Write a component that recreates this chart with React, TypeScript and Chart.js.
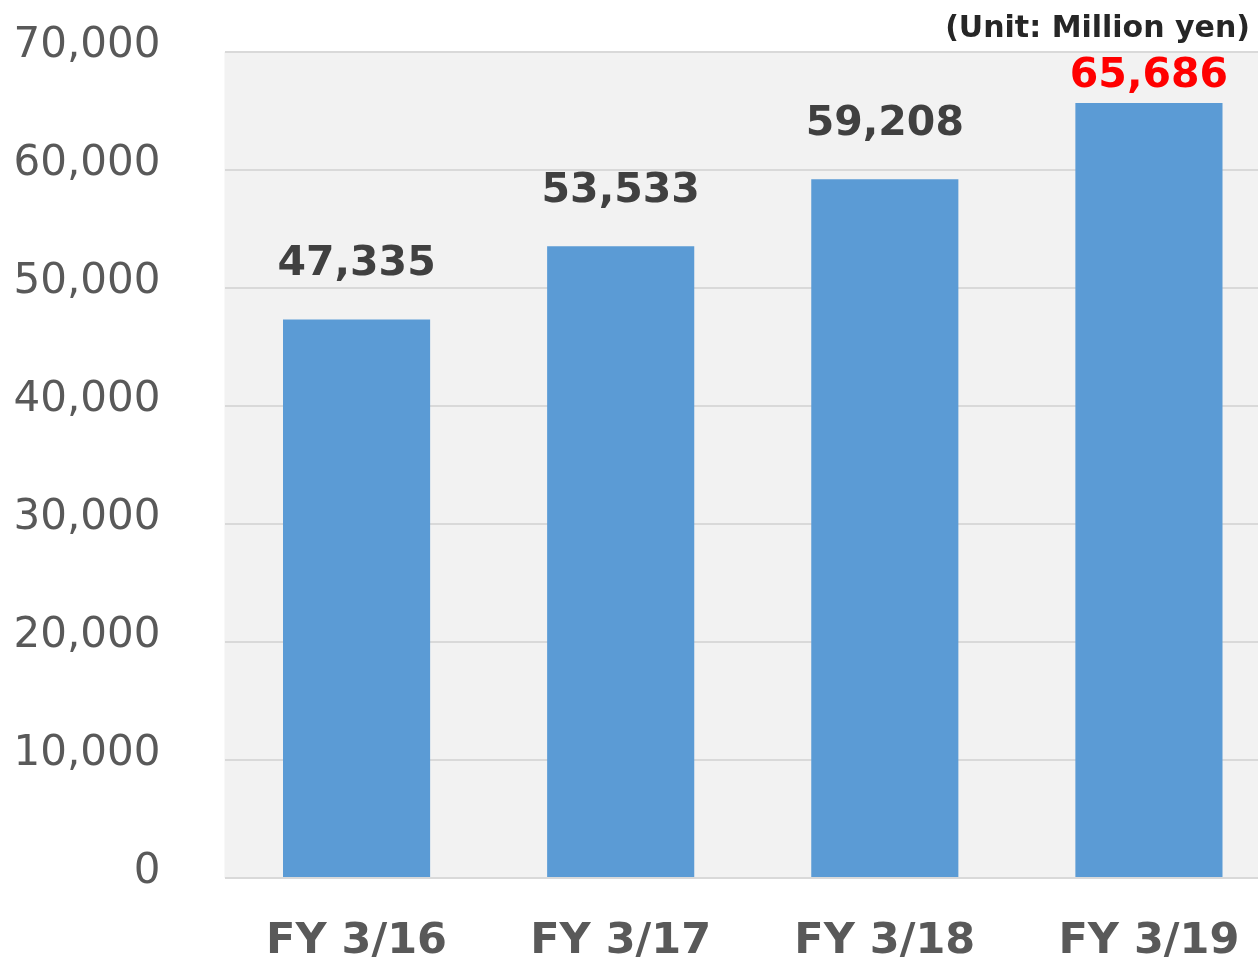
import React, { useEffect, useRef } from "react";
import { Chart, registerables } from "chart.js";

Chart.register(...registerables);

const categories = ["FY 3/16", "FY 3/17", "FY 3/18", "FY 3/19"];
const values = [47335, 53533, 59208, 65686];
const labelColors = ["#404040", "#404040", "#404040", "#ff0000"];
const labelOffsets = [55, 55, 55, 27];
const unitLabel = "(Unit: Million yen)";
const FONT = "'DejaVu Sans', Verdana, sans-serif";

export default function App() {
  const ref = useRef<HTMLCanvasElement | null>(null);
  useEffect(() => {
    if (!ref.current) return;
    const bgPlugin = {
      id: "plotBg",
      beforeDraw(chart: any) {
        const { ctx, chartArea } = chart;
        ctx.save();
        ctx.fillStyle = "#f2f2f2";
        ctx.fillRect(chartArea.left, chartArea.top, chartArea.right - chartArea.left, chartArea.bottom - chartArea.top);
        ctx.restore();
      },
    };
    const labelPlugin = {
      id: "valueLabels",
      afterDatasetsDraw(chart: any) {
        const { ctx } = chart;
        const meta = chart.getDatasetMeta(0);
        ctx.save();
        ctx.font = `bold 41px ${FONT}`;
        ctx.textAlign = "center";
        ctx.textBaseline = "middle";
        meta.data.forEach((bar: any, i: number) => {
          ctx.fillStyle = labelColors[i];
          ctx.fillText(values[i].toLocaleString("en-US"), bar.x, bar.y - labelOffsets[i]);
        });
        ctx.font = `bold 30px ${FONT}`;
        ctx.fillStyle = "#262626";
        ctx.textAlign = "right";
        ctx.fillText(unitLabel, 1250, 29);
        ctx.restore();
      },
    };
    const chart = new Chart(ref.current, {
      type: "bar",
      data: {
        labels: categories,
        datasets: [
          {
            data: values,
            backgroundColor: "#5b9bd5",
            categoryPercentage: 1,
            barPercentage: 0.557,
          },
        ],
      },
      options: {
        animation: false,
        responsive: false,
        maintainAspectRatio: false,
        devicePixelRatio: 1,
        layout: { padding: { top: 52, left: 0, right: 0, bottom: 0 } },
        plugins: { legend: { display: false }, tooltip: { enabled: false }, title: { display: false } },
        scales: {
          x: {
            grid: { display: false },
            border: { display: false },
            ticks: {
              color: "#595959",
              font: { family: FONT, size: 43, weight: "bold" },
              padding: 30,
              maxRotation: 0,
            },
            afterFit(scale: any) {
              scale.height = 82;
              scale.paddingLeft = 0;
              scale.paddingRight = 0;
            },
          },
          y: {
            min: 0,
            max: 70000,
            grid: { color: "#d9d9d9", lineWidth: 2, drawTicks: false },
            border: { display: false },
            ticks: {
              stepSize: 10000,
              color: "#595959",
              font: { family: FONT, size: 42, lineHeight: 0.26 },
              padding: 64,
              callback: (v: any) => [Number(v).toLocaleString("en-US"), ""],
            },
            afterFit(scale: any) {
              scale.width = 224.5;
              scale.paddingTop = 0;
              scale.paddingBottom = 0;
            },
          },
        },
      },
      plugins: [bgPlugin, labelPlugin],
    });
    return () => chart.destroy();
  }, []);
  return (
    <div style={{ position: "fixed", left: 0, top: 0, width: 1258, height: 960, overflow: "hidden", background: "#fff" }}>
      <canvas ref={ref} width={1281} height={960} style={{ display: "block", width: 1281, height: 960 }} />
    </div>
  );
}
